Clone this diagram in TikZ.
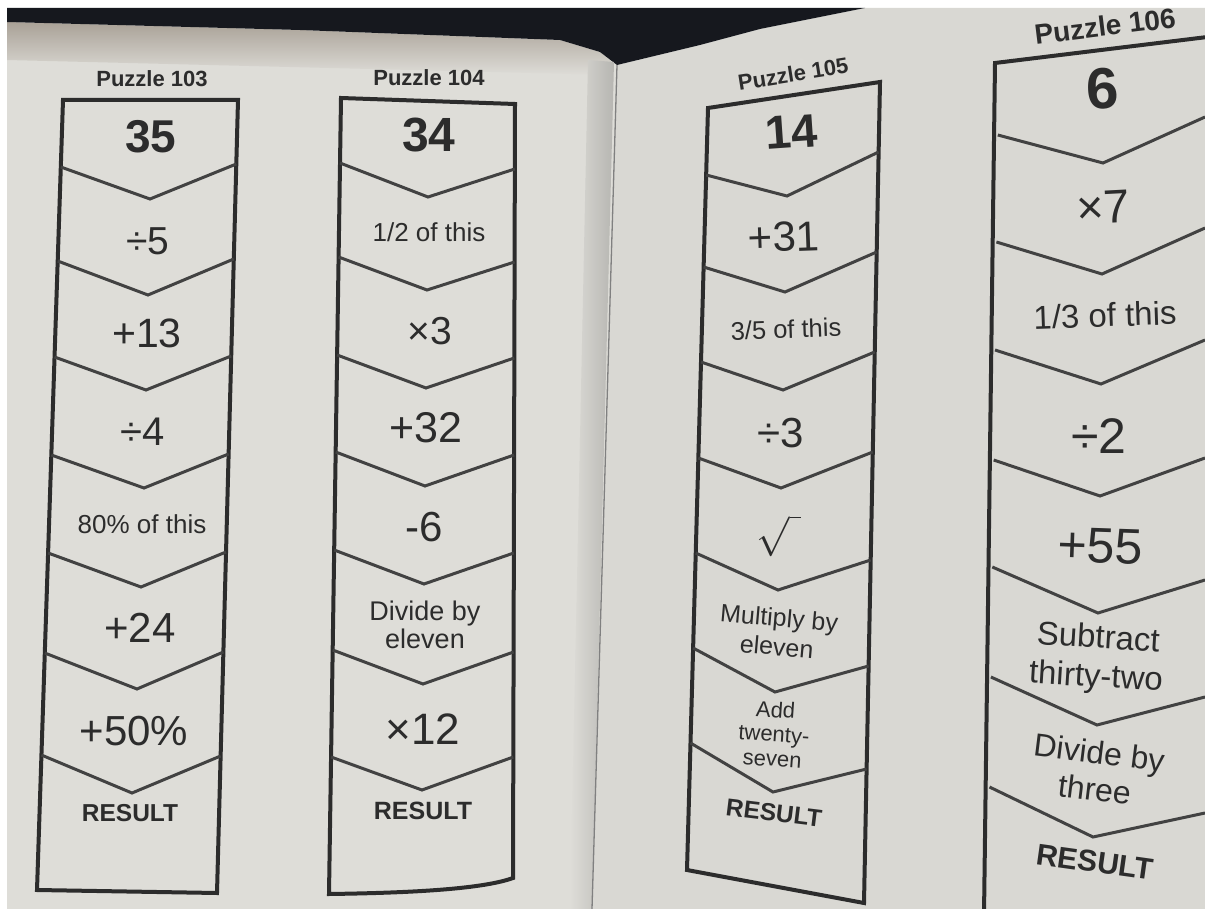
\documentclass[tikz,border=0pt]{standalone}
\usepackage{fontspec}
\setmainfont{Liberation Sans}
\definecolor{pageL}{RGB}{222,221,216}
\definecolor{pageR}{RGB}{217,216,211}
\definecolor{ink}{RGB}{44,44,44}
\definecolor{vink}{RGB}{66,66,66}
\definecolor{darkbg}{RGB}{22,24,30}
\definecolor{shadowtop}{RGB}{135,122,108}
\tikzset{
  boxline/.style={draw=ink, line width=4pt, line join=miter},
  vline/.style={draw=vink, line width=3pt, line join=miter},
  lbl/.style={text=ink, inner sep=0pt, align=center},
  ttl/.style={lbl, font=\bfseries\fontsize{#1}{#1}\selectfont},
  bignum/.style={lbl, font=\bfseries\fontsize{#1}{#1}\selectfont},
  optext/.style={lbl, font=\fontsize{#1}{#1}\selectfont},
  res/.style={lbl, font=\bfseries\fontsize{#1}{#1}\selectfont},
}
\begin{document}
\begin{tikzpicture}[x=1pt,y=-1pt]
\useasboundingbox (0,0) rectangle (1205,909);
\clip (0,0) rectangle (1205,909);
% background
\fill[white] (0,0) rectangle (1205,909);
\fill[pageL] (7,22) -- (300,30) -- (560,40) -- (600,52) -- (617,65) -- (592,909) -- (7,909) -- cycle;
\fill[pageR] (617,65) -- (700,45) -- (760,29) -- (865,8) -- (1205,8) -- (1205,909) -- (592,909) -- cycle;
\shade[top color=shadowtop, bottom color=pageL, opacity=0.6] (7,22) -- (300,30) -- (560,40) -- (600,52) -- (612,62) -- (612,75) -- (7,60) -- cycle;
\fill[darkbg] (7,8) -- (865,8) -- (760,29) -- (700,45) -- (617,65) -- (600,52) -- (560,40) -- (300,30) -- (7,22) -- cycle;
\shade[left color=pageL, right color=black!18!pageL] (588,60) -- (614,62) -- (592,909) -- (570,909) -- cycle;
\draw[black!50, line width=1.3pt] (617,65) -- (592,909);

% ---------- Puzzle 103 ----------
\node[ttl=22] (t103) at (152,79) {Puzzle 103};
\draw[boxline] (63,100) -- (238,100) -- (217,893) -- (37,890) -- cycle;
\draw[vline] (60.8,167) -- (150,199) -- (236.3,164);
\draw[vline] (57.7,261) -- (148,295) -- (233.8,259);
\draw[vline] (54.5,357) -- (146,390) -- (231.2,356);
\draw[vline] (51.3,455) -- (144,488) -- (228.6,454);
\draw[vline] (48.1,553) -- (141,587) -- (226.0,552);
\draw[vline] (44.8,653) -- (137,689) -- (223.4,652);
\draw[vline] (41.4,755) -- (132,793) -- (220.6,756);
\node[bignum=46] (a0) at (151,137) {35};
\node[optext=39] (a1) at (148,241) {÷5};
\node[optext=41] (a2) at (147,333) {+13};
\node[optext=40] (a3) at (143,432) {÷4};
\node[optext=26] (a4) at (142,524) {80\% of this};
\node[optext=42] (a5) at (140,628) {+24};
\node[optext=42] (a6) at (134,731) {+50\%};
\node[res=24.5] (a7) at (130,813) {RESULT};

% ---------- Puzzle 104 ----------
\node[ttl=22] (t104) at (429,78) {Puzzle 104};
\draw[boxline] (341,98) -- (515,104) -- (513,878) .. controls (480,890) and (400,893) .. (329,894) -- cycle;
\draw[vline] (340.0,163) -- (428,197) -- (514.8,169);
\draw[vline] (338.6,257) -- (427,290) -- (514.6,262);
\draw[vline] (337.1,355) -- (426,388) -- (514.3,358);
\draw[vline] (335.7,452) -- (425,486) -- (514.1,455);
\draw[vline] (334.2,550) -- (424,584) -- (513.8,553);
\draw[vline] (332.7,650) -- (423,684) -- (513.6,652);
\draw[vline] (331.1,757) -- (422,790) -- (513.3,757);
\node[bignum=48] (b0) at (429,135) {34};
\node[optext=26] (b1) at (429,232) {1/2 of this};
\node[optext=39] (b2) at (430,331) {×3};
\node[optext=43] (b3) at (426,428) {+32};
\node[optext=42] (b4) at (424,527) {-6};
\node[optext=27, font=\fontsize{27}{28}\selectfont] (b5) at (425,625) {Divide by\\eleven};
\node[optext=44] (b6) at (423,729) {×12};
\node[res=25] (b7) at (423,811) {RESULT};

% ---------- Puzzle 105 ----------
\node[ttl=22, rotate=9] (t105) at (793,74) {Puzzle 105};
\draw[boxline] (708,108) -- (880,82) -- (864,903) -- (687,870) -- cycle;
\draw[vline] (706.2,175) -- (787,196) -- (878.6,152);
\draw[vline] (703.6,267) -- (785,292) -- (876.7,252);
\draw[vline] (701.0,362) -- (783,390) -- (874.7,352);
\draw[vline] (698.4,458) -- (781,488) -- (872.8,452);
\draw[vline] (695.7,553) -- (778,590) -- (870.7,560);
\draw[vline] (693.1,648) -- (775,692) -- (868.6,666);
\draw[vline] (690.5,743) -- (773,792) -- (866.6,769);
\node[bignum=47, rotate=4] (c0) at (791,132) {14};
\node[optext=42, rotate=2] (c1) at (784,237) {+31};
\node[optext=25.5, rotate=2] (c2) at (786,329) {3/5 of this};
\node[optext=42] (c3) at (781,433) {÷3};
\node[lbl] (c4) at (779,536) {\scalebox{1.6}{\fontsize{24}{24}\selectfont$\sqrt{\vphantom{X}\hspace{7pt}}$}};
\node[optext=25, font=\fontsize{25}{29}\selectfont, rotate=-5] (c5) at (778,632) {Multiply by\\eleven};
\node[optext=22, font=\fontsize{22}{24.5}\selectfont, rotate=-4] (c6) at (774,734) {Add\\twenty-\\seven};
\node[res=24.5, rotate=-7] (c7) at (774,813) {RESULT};

% ---------- Puzzle 106 ----------
\node[ttl=28, rotate=7] (t106) at (1105,26) {Puzzle 106};
\draw[boxline] (1240,33) -- (995,63) -- (984,915);
\draw[vline] (997.8,135) -- (1103,163) -- (1205,117);
\draw[vline] (996.4,242) -- (1102,274) -- (1205,228);
\draw[vline] (995.0,350) -- (1101,384) -- (1205,340);
\draw[vline] (993.7,460) -- (1100,496) -- (1205,458);
\draw[vline] (992.3,567) -- (1098,613) -- (1205,580);
\draw[vline] (990.9,677) -- (1097,725) -- (1205,697);
\draw[vline] (989.5,787) -- (1093,837) -- (1205,813);
\node[bignum=58, rotate=3] (d0) at (1103,89) {6};
\node[optext=47, rotate=3] (d1) at (1103,207) {×7};
\node[optext=33, rotate=2] (d2) at (1105,315) {1/3 of this};
\node[optext=50] (d3) at (1099,436) {÷2};
\node[optext=50, rotate=-2] (d4) at (1100,546) {+55};
\node[optext=33, font=\fontsize{33}{39}\selectfont, rotate=-3.5] (d5) at (1097,659) {Subtract\\thirty-two};
\node[optext=32, font=\fontsize{32}{37}\selectfont, rotate=-7] (d6) at (1097,771) {Divide by\\three};
\node[res=30, rotate=-8] (d7) at (1095,862) {RESULT};
\end{tikzpicture}
\end{document}
